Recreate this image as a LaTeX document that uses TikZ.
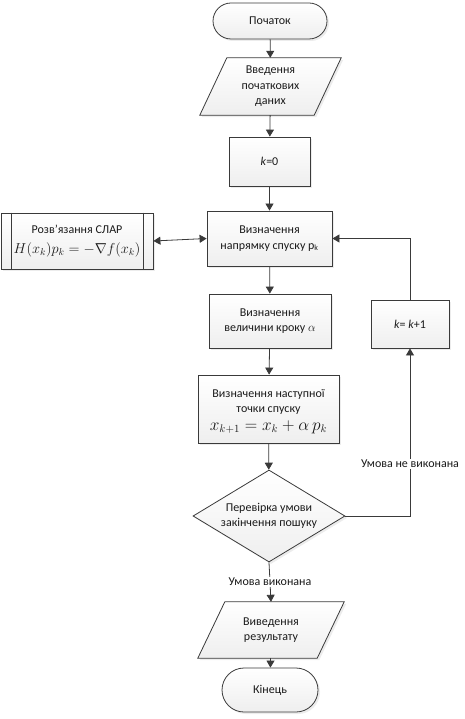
\documentclass[tikz,border=0pt]{standalone}
\usepackage{fontspec}
\setmainfont{Carlito}
\usetikzlibrary{shapes.geometric,arrows.meta,shadows,calc,backgrounds}
\definecolor{linec}{HTML}{3A3A3A}
\definecolor{txt}{HTML}{1A1A1A}
\begin{document}
\begin{tikzpicture}[x=1pt,y=-1pt,
  every node/.style={font=\fontsize{12}{15.5}\selectfont, text=txt},
  shade/.style={draw=linec, line width=0.8pt, top color=white, bottom color=gray!13,
     drop shadow={opacity=0.15, shadow xshift=2pt, shadow yshift=-2pt}},
  proc/.style={shade, rectangle, align=center, inner sep=0pt},
  term/.style={proc, rounded corners=#1},
  iobox/.style={rectangle, align=center, inner sep=0pt},
  dec/.style={shade, diamond, aspect=1.65, align=center, inner sep=0pt},
  lbl/.style={fill=white, inner sep=1pt},
  arr/.style={draw=linec, line width=0.8pt, -{Triangle[width=8pt,length=7pt]}},
  ln/.style={draw=linec, line width=0.8pt}
]
\useasboundingbox (0,0) rectangle (465,719);

\node[term=18pt, minimum width=114pt, minimum height=36pt] (start) at (270,21) {Початок};
\node[iobox, minimum width=114pt, minimum height=57pt] (in) at (270.5,86.5) {Введення\\початкових\\даних};
\node[proc, minimum width=81pt, minimum height=49pt] (k0) at (269.5,161.5) {\textit{k}=0};
\node[proc, minimum width=125pt, minimum height=55pt] (dir) at (269.5,238.5) {Визначення\\напрямку спуску p\textsubscript{k}};
\node[proc, minimum width=122pt, minimum height=54pt] (step) at (270,321) {Визначення\\величини кроку $\alpha$};
\node[proc, minimum width=141pt, minimum height=68pt] (next) at (268.5,409) {\raisebox{0pt}[13pt][0pt]{Визначення наступної}\\точки спуску\\[2pt]{\fontsize{16}{18}\selectfont $x_{k+1}=x_k+\alpha\,p_k$}};
\node[dec, minimum width=152pt, minimum height=92pt] (cond) at (269,516) {Перевірка умови\\закінчення пошуку};
\node[iobox, minimum width=119pt, minimum height=56pt] (out) at (271,630) {Виведення\\результату};
\node[term=22pt, minimum width=96pt, minimum height=44pt] (end) at (270,690) {Кінець};
\node[proc, minimum width=152pt, minimum height=56pt] (slar) at (77,241) {Розв’язання СЛАР\\[5pt]{\fontsize{14.5}{16}\selectfont $H(x_k)p_k=-\nabla f(x_k)$}};
\node[proc, minimum width=78pt, minimum height=48pt] (k1) at (410,324) {\textit{k}= \textit{k}+1};

\begin{scope}[on background layer]
\path[shade] ($(in.north west)+(13.5,0)$) -- ($(in.north east)+(13.5,0)$) -- ($(in.south east)-(13.5,0)$) -- ($(in.south west)-(13.5,0)$) -- cycle;
\path[shade] ($(out.north west)+(13.5,0)$) -- ($(out.north east)+(13.5,0)$) -- ($(out.south east)-(13.5,0)$) -- ($(out.south west)-(13.5,0)$) -- cycle;
\end{scope}
\draw[ln] ($(slar.north west)+(11,0)$) -- ($(slar.south west)+(11,0)$);
\draw[ln] ($(slar.north east)-(10,0)$) -- ($(slar.south east)-(10,0)$);

\draw[arr] (start) -- (in);
\draw[arr] (in) -- (k0);
\draw[arr] (k0) -- (dir);
\draw[arr] (dir) -- (step);
\draw[arr] (step) -- (next);
\draw[arr] (next) -- (cond);
\draw[arr] (cond.south) -- node[lbl] (lab1) {Умова виконана} (out.north);
\draw[arr] (out) -- (end);
\coordinate (c1) at (k1.south |- cond.east);
\draw[arr] (cond.east) -- (c1) -- node[lbl, pos=0.31] (lab2) {Умова не виконана} (k1.south);
\draw[arr] (k1.north) |- (dir.east);
\draw[ln, {Triangle[width=8pt,length=7pt]}-{Triangle[width=8pt,length=7pt]}] (slar.east) -- (dir.west);
\end{tikzpicture}
\end{document}
